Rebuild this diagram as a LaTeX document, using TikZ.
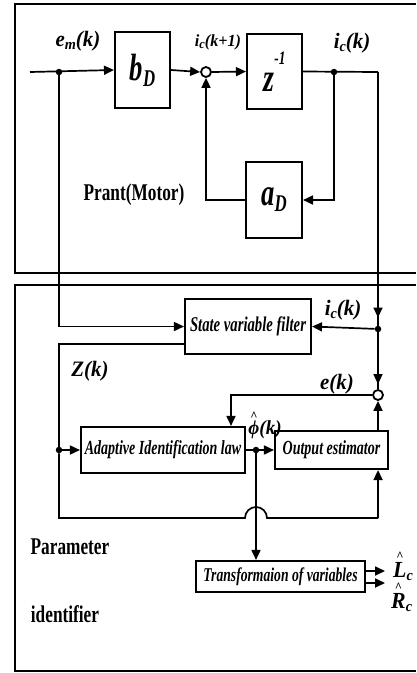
\documentclass[tikz,border=0pt]{standalone}
\usepackage{fontspec}
\setmainfont{Liberation Serif}
\newfontfamily\cnd[FakeStretch=0.7]{Liberation Serif}
\newfontfamily\cndb[FakeStretch=0.72]{Liberation Serif}
\newfontfamily\lbf[FakeStretch=0.95]{Liberation Serif}
\usetikzlibrary{arrows.meta,calc}
\newcommand{\fs}[1]{\fontsize{#1}{#1}\selectfont}
\newcommand{\lbl}[2]{{\lbf\bfseries\itshape\fs{#1}#2}}
\newcommand{\sbs}[2]{\raisebox{-0.35ex}{\fs{#1}#2}}
\newcommand{\hatover}[3]{\leavevmode\vbox{\offinterlineskip\halign{\hfil##\hfil\cr{\fs{#2}\textasciicircum}\cr\noalign{\kern#3}#1\cr}}}
\begin{document}
\begin{tikzpicture}[x=1pt,y=-1pt,
  wire/.style={line width=1.7pt},
  sig/.style={line width=1.7pt,-{Triangle[length=10pt,width=9pt]}},
  frame/.style={line width=1.1pt},
  blk/.style={draw,line width=2.1pt,inner sep=0pt,font=\cnd\bfseries\itshape},
  junc/.style={circle,fill,inner sep=0pt,minimum size=6.5pt},
  sumc/.style={circle,draw,line width=1.8pt,inner sep=0pt,minimum size=10pt},
  txt/.style={inner sep=0pt}]
\useasboundingbox (0,0) rectangle (416,673);
% frames
\draw[frame] (416,4) -- (15,4) -- (15,273) -- (416,273);
\draw[frame] (416,285) -- (15,285) -- (15,671) -- (416,671);
% plant blocks
\node[blk,minimum width=55pt,minimum height=76pt] (bD) at (142.5,70) {\fs{38}b\sbs{24}{D}};
\node[blk,minimum width=55pt,minimum height=75pt] (z) at (274.5,71.5) {\fs{40}z\raisebox{1.5ex}{\fs{19}-1}};
\node[blk,minimum width=56pt,minimum height=76pt] (aD) at (274,200) {\fs{38}a\sbs{24}{D}};
\node[sumc] (s1) at (206,72) {};
\coordinate (in) at (30,72);
\node[junc] (d1) at (59,72) {};
\node[junc] (d2) at (334,72) {};
\coordinate (c1) at (378,72);
% identifier blocks
\node[blk,minimum width=126pt,minimum height=55pt] (svf) at (248,326.5) {\fs{21}State variable filter};
\node[sumc] (s2) at (378,395) {};
\node[junc] (d3) at (378,329) {};
\node[blk,minimum width=164pt,minimum height=46pt] (adp) at (163,450) {\fs{20}Adaptive Identification law};
\node[blk,minimum width=113pt,minimum height=38pt] (oe) at (331.5,450) {\fs{20}Output estimator};
\node[junc] (d4) at (59,450) {};
\node[junc] (d5) at (256,450) {};
\node[blk,minimum width=169pt,minimum height=31pt] (tr) at (280.5,576.5) {\fs{19.5}Transformaion of variables};
\coordinate (zs) at ($(svf.south west)+(0,-11)$);
\coordinate (eback) at (231,395);
\coordinate (oeb) at ($(oe.south east)+(-11,0)$);
\coordinate (oet) at ($(oe.north east)+(-11,0)$);
\coordinate (bl) at (59,518);
\coordinate (hopL) at (245,518);
\coordinate (br) at (378,518);
\coordinate (lo1) at (385,571);
\coordinate (lo2) at (385,583);
% plant wiring
\draw[sig] (in) -- (bD.west);
\draw[sig] (bD.east) -- (s1.west);
\draw[sig] (s1.east) -- (z.west);
\draw[wire] (z.east) -- (c1);
\draw[sig] (d2) |- (aD.east);
\draw[sig] (aD.west) -| (s1.south);
% to identifier
\draw[wire] (c1) -- (d3);
\draw[sig,shorten >=8pt] (c1) -- (d3);
\draw[sig] (d1) |- (svf.west);
\draw[sig] (d3) -- (svf.east);
\draw[wire] (d3) -- (s2.north);
\draw[sig,shorten >=5pt] (d3) -- (s2.north);
\draw[sig] (oet) -- (s2.south);
\draw[sig] (s2.west) -- (eback) -- (eback |- adp.north);
\draw[wire] (zs) -| (d4);
\draw[sig] (d4) -- (adp.west);
\draw[sig] (adp.east) -- (oe.west);
\draw[wire] (d4) -- (bl) -- (hopL) arc[start angle=180,end angle=360,radius=11] -- (br);
\draw[sig] (br) -- (oeb);
\draw[sig] (d5) -- (d5 |- tr.north);
\draw[sig] (tr.east |- lo1) -- (lo1);
\draw[sig] (tr.east |- lo2) -- (lo2);
% labels
\node[txt] (lem) at (78,41) {\lbl{22}{e\sbs{15}{m}(k)}};
\node[txt] (lic1) at (218,42) {\lbl{17}{i\sbs{13}{c}(k+1)}};
\node[txt] (lic2) at (352,43) {\lbl{22}{i\sbs{15}{c}(k)}};
\node[txt] (lpm) at (134,195) {{\cndb\bfseries\fs{24}Prant(Motor)}};
\node[txt] (lic3) at (343,310) {\lbl{22}{i\sbs{15}{c}(k)}};
\node[txt] (lz) at (90,371) {\lbl{22}{Z(k)}};
\node[txt] (le) at (337,384) {\lbl{22}{e(k)}};
\node[txt,anchor=base] (lphi) at (265,434) {\lbl{20}{\hatover{ϕ}{13}{0pt}(k)}};
\node[txt,anchor=base west] (lL) at (393,577) {\lbl{23}{\hatover{L}{13}{1pt}\sbs{15}{c}}};
\node[txt,anchor=base west] (lR) at (391,608) {\lbl{23}{\hatover{R}{13}{1pt}\sbs{15}{c}}};
\node[txt] (lpar) at (70,547) {{\cndb\bfseries\fs{24}Parameter}};
\node[txt] (lid) at (65,614) {{\cndb\bfseries\fs{24}identifier}};
\end{tikzpicture}
\end{document}
